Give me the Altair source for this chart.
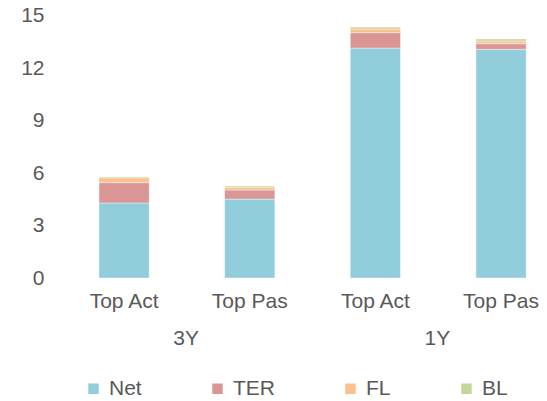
import altair as alt
import pandas as pd

groups = ["3Y", "3Y", "1Y", "1Y"]
subs = ["Top Act", "Top Pas", "Top Act", "Top Pas"]
components = ["Net", "TER", "FL", "BL"]
net = [4.29, 4.51, 13.14, 13.07]
ter = [1.16, 0.52, 0.88, 0.32]
fl = [0.28, 0.15, 0.21, 0.15]
bl = [0.06, 0.08, 0.11, 0.12]
colors = ["#92CDDC", "#DA9694", "#FAC090", "#C4D79B"]
y_ticks = [0, 3, 6, 9, 12, 15]

FONT = "Liberation Sans"
GREY = "#595959"
FS = 21

cats = [f"{g}|{s}" for g, s in zip(groups, subs)]
rows = []
for comp_i, (comp, vals) in enumerate(zip(components, [net, ter, fl, bl])):
    for c, v in zip(cats, vals):
        rows.append({"cat": c, "component": comp, "value": v, "ord": comp_i})
df = pd.DataFrame(rows)

group_df = pd.DataFrame({
    "cat": [cats[0], cats[2]],
    "label": [groups[0], groups[2]],
})

xscale = alt.Scale(domain=cats, paddingInner=0.6, paddingOuter=0.222, align=0.842)

bars = alt.Chart(df).mark_bar(stroke="white", strokeWidth=0.6, strokeOpacity=0.7).encode(
    x=alt.X("cat:N", scale=xscale, sort=cats, title=None,
            axis=alt.Axis(labelExpr="split(datum.label, '|')[1]", labelAngle=0,
                          domain=False, ticks=False, labelPadding=12,
                          labelFont=FONT, labelFontSize=FS, labelColor=GREY)),
    y=alt.Y("value:Q", stack="zero", title=None,
            scale=alt.Scale(domain=[0, 15], nice=False),
            axis=alt.Axis(values=y_ticks, grid=False, domain=False, ticks=False,
                          labelPadding=8, labelFont=FONT, labelFontSize=FS,
                          labelColor=GREY)),
    color=alt.Color("component:N",
                    scale=alt.Scale(domain=components, range=colors),
                    sort=components,
                    legend=alt.Legend(title=None, orient="none", legendX=31, legendY=362.5,
                                      direction="horizontal", columnPadding=65,
                                      symbolType="square", symbolSize=110,
                                      symbolStrokeWidth=0, labelFont=FONT,
                                      labelFontSize=FS, labelColor=GREY,
                                      labelOffset=5, padding=0)),
    order=alt.Order("ord:Q", sort="ascending"),
)

group_labels = alt.Chart(group_df).mark_text(
    dx=62, baseline="alphabetic", align="center",
    font=FONT, fontSize=FS, color=GREY
).encode(
    x=alt.X("cat:N", scale=xscale, sort=cats),
    y=alt.value(329.5),
    text="label:N",
)

chart = alt.layer(bars, group_labels).properties(
    width=483,
    height=262.5,
    autosize=alt.AutoSizeParams(type="none"),
    padding={"left": 44, "top": 7.5, "right": 4, "bottom": 122},
).configure_view(stroke=None)

chart.save("out.html", embed_options={"renderer": "svg", "actions": False})
